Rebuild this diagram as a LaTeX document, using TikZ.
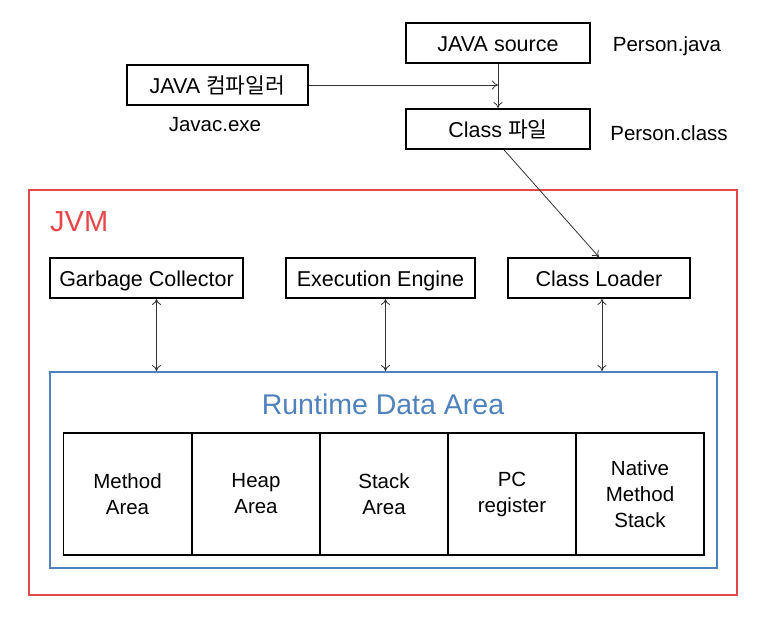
\documentclass[tikz,border=0pt]{standalone}
\usepackage{fontspec}
\setmainfont{Liberation Sans}
\newfontfamily\krfont{Noto Sans CJK KR}
\usetikzlibrary{arrows.meta,calc}
\definecolor{jvmred}{HTML}{E8474A}
\definecolor{rdablue}{HTML}{4F81BD}
\definecolor{linegray}{HTML}{333333}
\begin{document}
\begin{tikzpicture}[x=1pt,y=-1pt,
 box/.style={draw,line width=1.8pt,minimum height=40pt,inner sep=0pt,text height=20pt,text depth=3pt,font=\fontsize{21.5}{24}\selectfont},
 cell/.style={draw,line width=1.8pt,minimum width=128pt,minimum height=122pt,inner sep=0pt,align=center,font=\fontsize{20.5}{26}\selectfont},
 lbl/.style={inner sep=0pt,font=\fontsize{20.5}{24}\selectfont},
 conn/.style={draw=linegray,line width=0.8pt,-{To[length=6pt,width=9pt]}},
 dconn/.style={draw=linegray,line width=0.8pt,{To[length=6pt,width=9pt]}-{To[length=6pt,width=9pt]}}
]
\useasboundingbox (0,0) rectangle (758,623);
\node[box,minimum width=184pt] (src) at (498,43) {JAVA source};
\node[box,minimum width=181pt] (comp) at (217.5,85) {JAVA {\krfont 컴파일러}};
\node[box,minimum width=184pt] (cls) at (498,129) {Class {\krfont 파일}};
\node[lbl] (pj) at (667,46) {Person.java};
\node[lbl] (pc) at (669,133) {Person.class};
\node[lbl] (jx) at (215,125) {Javac.exe};
\node[draw=jvmred,line width=1.8pt,minimum width=708pt,minimum height=405pt,inner sep=0pt] (jvm) at (383,392.5) {};
\node[anchor=west,inner sep=0pt,text=jvmred,font=\fontsize{29}{32}\selectfont] (jvml) at (50,222) {JVM};
\node[box,minimum width=193pt] (gc) at (146.5,278) {Garbage Collector};
\node[box,minimum width=189pt] (ee) at (380.5,278) {Execution Engine};
\node[box,minimum width=182pt] (cl) at (599,278) {Class Loader};
\node[draw=rdablue,line width=1.8pt,minimum width=667pt,minimum height=196pt,inner sep=0pt] (rda) at (383.5,470) {};
\node[inner sep=0pt,text=rdablue,font=\fontsize{28.5}{32}\selectfont] (rdal) at (383,404) {Runtime Data Area};
\node[cell] (c1) at (127.5,494) {Method\\Area};
\node[cell] (c2) at (256,494) {Heap\\Area};
\node[cell] (c3) at (384,494) {Stack\\Area};
\node[cell] (c4) at (512,494) {PC\\register};
\node[cell] (c5) at (640,494) {Native\\Method\\Stack};
\draw[conn] (src.south) -- (cls.north);
\draw[conn] (comp.east) -- (comp.east -| src.south);
\draw[conn] ([xshift=6pt]cls.south) -- (cl.north);
\draw[dconn] ([xshift=10pt]gc.south) -- ([xshift=10pt]gc.south |- rda.north);
\draw[dconn] ([xshift=5pt]ee.south) -- ([xshift=5pt]ee.south |- rda.north);
\draw[dconn] ([xshift=3pt]cl.south) -- ([xshift=3pt]cl.south |- rda.north);
\end{tikzpicture}
\end{document}
